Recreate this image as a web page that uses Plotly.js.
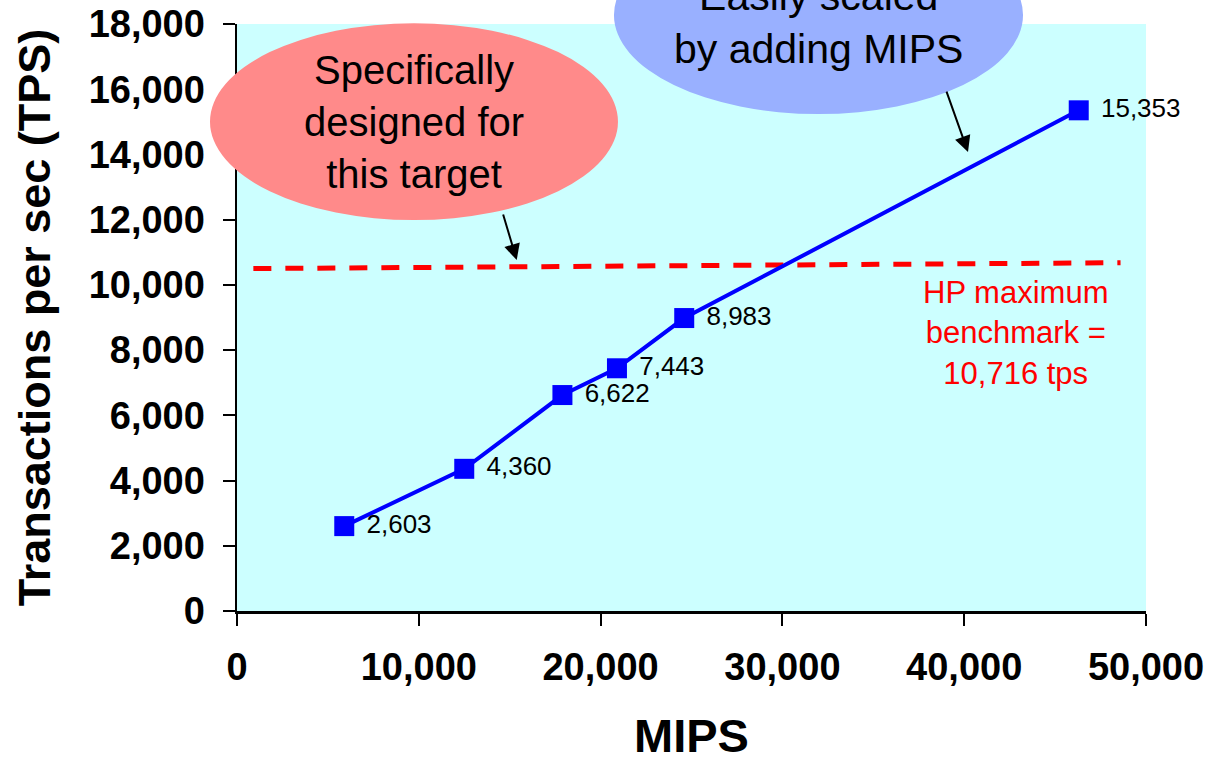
<!DOCTYPE html>
<html>
<head>
<meta charset="utf-8">
<script src="https://cdn.plot.ly/plotly-3.0.1.min.js"></script>
<style>html,body{margin:0;padding:0;background:#fff;}#chart{width:1217px;height:762px;}</style>
</head>
<body>
<div id="chart"></div>
<script>
// ---- data ----
const mips = [5900, 12500, 17900, 20900, 24600, 46300];
const tps = [2603, 4360, 6622, 7443, 8983, 15353];
const hpLineX = [900, 48600];
const hpLineY = [10500, 10680];
const xTickVals = [0, 10000, 20000, 30000, 40000, 50000];
const yTickVals = [0, 2000, 4000, 6000, 8000, 10000, 12000, 14000, 16000, 18000];
const xTitle = 'MIPS';
const yTitle = 'Transactions per sec (TPS)';
const hpText = 'HP maximum<br>benchmark =<br>10,716 tps';
const redBubbleText = 'Specifically<br>designed for<br>this target';
const blueBubbleText = 'Easily scaled<br>by adding MIPS';

const FONT = 'Liberation Sans, Arial, sans-serif';

const traces = [
  {
    x: hpLineX, y: hpLineY, mode: 'lines', type: 'scatter',
    line: {color: '#FF0000', width: 5, dash: '18px,14px'},
    hoverinfo: 'skip', showlegend: false
  },
  {
    x: mips, y: tps, mode: 'lines+markers', type: 'scatter',
    line: {color: '#0000FF', width: 4},
    marker: {symbol: 'square', size: 20, color: '#0000FF'},
    showlegend: false
  },
  {
    x: mips, y: tps, mode: 'markers+text', type: 'scatter',
    marker: {symbol: 'square', size: 34, color: 'rgba(0,0,0,0)'},
    texttemplate: '%{y:,}', textposition: 'middle right', cliponaxis: false,
    textfont: {family: FONT, size: 26, color: '#000000'},
    showlegend: false, hoverinfo: 'skip'
  }
];

const layout = {
  width: 1217, height: 762,
  margin: {l: 237, r: 71, t: 24, b: 151, pad: 0},
  paper_bgcolor: '#FFFFFF',
  plot_bgcolor: '#CCFFFF',
  font: {family: FONT, color: '#000000'},
  showlegend: false,
  xaxis: {
    range: [0, 50000], tickvals: xTickVals, tickformat: ',d',
    showgrid: false, zeroline: false,
    showline: true, linecolor: '#000', linewidth: 2.5,
    ticks: 'outside', ticklen: 12, tickwidth: 2, tickcolor: '#000',
    ticklabelstandoff: 9,
    tickfont: {family: FONT, size: 38, color: '#000', weight: 'bold'},
    title: {text: '<b>' + xTitle + '</b>', font: {family: FONT, size: 47, color: '#000'}, standoff: 44}
  },
  yaxis: {
    range: [0, 18000], tickvals: yTickVals, tickformat: ',d',
    showgrid: false, zeroline: false,
    showline: true, linecolor: '#000', linewidth: 2.5,
    ticks: 'outside', ticklen: 12, tickwidth: 2, tickcolor: '#000',
    ticklabelstandoff: 10,
    tickfont: {family: FONT, size: 38, color: '#000', weight: 'bold'},
    title: {text: '<b>' + yTitle + '</b>', font: {family: FONT, size: 45, color: '#000'}, standoff: 24}
  },
  shapes: [
    {type: 'circle', xref: 'paper', yref: 'paper', layer: 'above',
     x0: -0.0297, x1: 0.4191, y0: 0.666, y1: 1.0012,
     fillcolor: '#FF8A8A', line: {width: 0}},
    {type: 'circle', xref: 'paper', yref: 'paper', layer: 'above',
     x0: 0.4147, x1: 0.8647, y0: 0.8466, y1: 1.1841,
     fillcolor: '#99B0FF', line: {width: 0}}
  ],
  annotations: [
    {xref: 'paper', yref: 'paper', x: 0.1947, y: 0.8336, text: redBubbleText,
     showarrow: false, font: {family: FONT, size: 40, color: '#000'}, align: 'center',
     xanchor: 'center', yanchor: 'middle'},
    {xref: 'paper', yref: 'paper', x: 0.6397, y: 1.002, text: blueBubbleText,
     showarrow: false, font: {family: FONT, size: 41, color: '#000'}, align: 'center',
     xanchor: 'center', yanchor: 'middle'},
    {xref: 'paper', yref: 'paper', x: 0.8559, y: 0.4733, text: hpText,
     showarrow: false, font: {family: FONT, size: 31, color: '#FF0000'}, align: 'center',
     xanchor: 'center', yanchor: 'middle'},
    {xref: 'x', yref: 'y', x: 15385, y: 10761, text: '', showarrow: true,
     ax: -14, ay: -47, arrowhead: 2, arrowsize: 1.6, arrowwidth: 2, arrowcolor: '#000', standoff: 0},
    {xref: 'x', yref: 'y', x: 40209, y: 14073, text: '', showarrow: true,
     ax: -22, ay: -62, arrowhead: 2, arrowsize: 1.6, arrowwidth: 2, arrowcolor: '#000', standoff: 0}
  ]
};

Plotly.newPlot('chart', traces, layout, {displayModeBar: false, staticPlot: true});
</script>
</body>
</html>
